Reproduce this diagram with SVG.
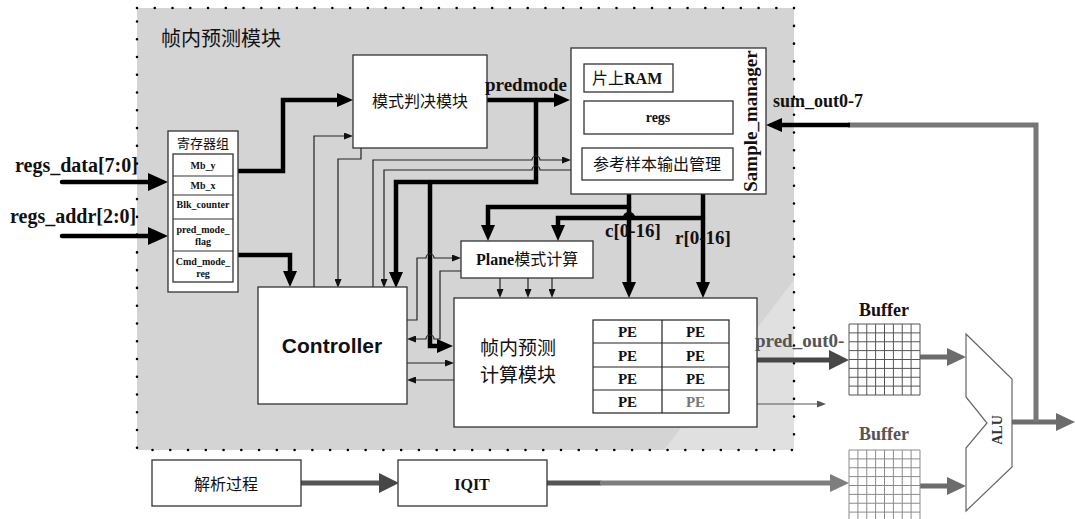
<svg xmlns="http://www.w3.org/2000/svg" width="1075" height="519" viewBox="0 0 1075 519">
<style>
.box{fill:#fff;stroke:#333;stroke-width:1.3}
.thk{fill:none;stroke:#000;stroke-width:4.5;stroke-linecap:round;stroke-linejoin:miter}
.thn{fill:none;stroke:#222;stroke-width:1.2}
.cjk{font-family:"Noto Sans CJK SC","Noto Sans CJK TC",sans-serif;fill:#111}
.b{font-family:"Liberation Serif",serif;font-weight:bold;fill:#111}
.bs{font-family:"Liberation Sans",sans-serif;font-weight:bold;fill:#111}
.mid{text-anchor:middle}
</style>
<defs>
<marker id="aB" markerUnits="userSpaceOnUse" viewBox="0 0 16 14" markerWidth="16" markerHeight="14" refX="1" refY="7" orient="auto"><path d="M0,0L16,7L0,14z" fill="#000"/></marker>
<marker id="aL" markerUnits="userSpaceOnUse" viewBox="0 0 20 18" markerWidth="20" markerHeight="18" refX="1" refY="9" orient="auto"><path d="M0,0L20,9L0,18z" fill="#000"/></marker>
<marker id="aS" markerUnits="userSpaceOnUse" viewBox="0 0 9 7" markerWidth="9" markerHeight="7" refX="1" refY="3.5" orient="auto"><path d="M0,0L9,3.5L0,7z" fill="#111"/></marker>
<marker id="aSg" markerUnits="userSpaceOnUse" viewBox="0 0 9 7" markerWidth="9" markerHeight="7" refX="1" refY="3.5" orient="auto"><path d="M0,0L9,3.5L0,7z" fill="#555"/></marker>
<marker id="aGD" markerUnits="userSpaceOnUse" viewBox="0 0 20 20" markerWidth="20" markerHeight="20" refX="1" refY="10" orient="auto"><path d="M0,0L20,10L0,20z" fill="#474747"/></marker>
<marker id="aG" markerUnits="userSpaceOnUse" viewBox="0 0 19 18" markerWidth="19" markerHeight="18" refX="1" refY="9" orient="auto"><path d="M0,0L19,9L0,18z" fill="#6c6c6c"/></marker>
<marker id="aGL" markerUnits="userSpaceOnUse" viewBox="0 0 19 18" markerWidth="19" markerHeight="18" refX="1" refY="9" orient="auto"><path d="M0,0L19,9L0,18z" fill="#7e7e7e"/></marker>
</defs>

<g id="frame">
<rect x="137" y="8" width="657" height="442" fill="#d4d4d4"/>
<polygon points="794,280 794,450 664,450" fill="#e0e0e0"/>
<rect x="137" y="8" width="657" height="442" fill="none" stroke="#000" stroke-width="2.6" stroke-linecap="round" stroke-dasharray="0 17.76"/>
<text class="cjk" x="161" y="46" font-size="20">帧内预测模块</text>
</g>

<g id="connectors">
<path class="thk" d="M62,182H149" marker-end="url(#aL)"/>
<path class="thk" d="M62,236H149" marker-end="url(#aL)"/>
<path class="thk" d="M237,171H283V100H338" marker-end="url(#aB)"/>
<path class="thk" d="M237,255H290V272" marker-end="url(#aB)"/>
<path class="thk" d="M487,100H555" marker-end="url(#aB)"/>
<path class="thk" d="M536,100V182H396V273" marker-end="url(#aB)"/>
<path class="thk" d="M430,182V346H438" marker-end="url(#aB)"/>
<path class="thk" d="M629,194V283" marker-end="url(#aB)"/>
<path class="thk" d="M703,194V283" marker-end="url(#aB)"/>
<path class="thk" d="M629,207H488V226" marker-end="url(#aB)"/>
<path class="thk" d="M703,218H633a4,4 0 0 0 -8,0H558V226" marker-end="url(#aB)"/>
<path class="thn" d="M314,287V136H345" marker-end="url(#aS)"/>
<path class="thn" d="M361,148V159H338V280" marker-end="url(#aS)"/>
<path class="thn" d="M373,287V160H532a4,4 0 0 1 8,0H563" marker-end="url(#aS)"/>
<path class="thn" d="M571,170H540a4,4 0 0 0 -8,0H384V280" marker-end="url(#aS)"/>
<path class="thn" d="M407,320H417V258H426a4,4 0 0 1 8,0H453" marker-end="url(#aS)"/>
<path class="thn" d="M461,271H440V339H434a4,4 0 0 0 -8,0H415" marker-end="url(#aS)"/>
<path class="thn" d="M407,363H446" marker-end="url(#aS)"/>
<path class="thn" d="M454,380H415" marker-end="url(#aS)"/>
<path class="thn" d="M500,278V290" marker-end="url(#aS)"/>
<path class="thn" d="M528,278V290" marker-end="url(#aS)"/>
<path class="thn" d="M552,278V290" marker-end="url(#aS)"/>
<path fill="none" stroke="#555" stroke-width="1.2" d="M757,404H818" marker-end="url(#aSg)"/>
<path fill="none" stroke="#555" stroke-width="5" stroke-linecap="round" d="M301,483H380" marker-end="url(#aGD)"/>
<path fill="none" stroke="#555" stroke-width="5" stroke-linecap="round" d="M547,483H600"/>
<path fill="none" stroke="#7e7e7e" stroke-width="5" d="M600,483H831" marker-end="url(#aGL)"/>
<path fill="none" stroke="#474747" stroke-width="5" stroke-linecap="round" d="M755,360H830" marker-end="url(#aGD)"/>
<path fill="none" stroke="#6c6c6c" stroke-width="5" stroke-linecap="round" d="M921,357H948" marker-end="url(#aG)"/>
<path fill="none" stroke="#6c6c6c" stroke-width="5" stroke-linecap="round" d="M921,486H948" marker-end="url(#aG)"/>
<path fill="none" stroke="#6c6c6c" stroke-width="5" stroke-linecap="round" d="M1013,422H1057" marker-end="url(#aG)"/>
<path fill="none" stroke="#777" stroke-width="5" d="M1036,422V125H848"/>
<path fill="none" stroke="#000" stroke-width="4.5" d="M850,125H781" marker-end="url(#aB)"/>
</g>

<g id="regs_labels">
<text class="b" x="15" y="172" font-size="20">regs_data[7:0]</text>
<text class="b" x="10" y="223" font-size="20">regs_addr[2:0]</text>
</g>

<g id="regfile">
<rect class="box" x="168" y="131" width="70" height="161"/>
<rect class="box" x="173" y="154" width="60" height="128"/>
<path fill="none" stroke="#333" stroke-width="1.2" d="M173,176H233M173,195H233M173,219H233M173,251H233"/>
<text class="cjk mid" x="203" y="148" font-size="13">寄存器组</text>
<text class="b mid" x="203" y="169" font-size="10">Mb_y</text>
<text class="b mid" x="203" y="189" font-size="10">Mb_x</text>
<text class="b mid" x="203" y="208" font-size="10">Blk_counter</text>
<text class="b mid" x="203" y="233" font-size="10">pred_mode_</text>
<text class="b mid" x="203" y="245" font-size="10">flag</text>
<text class="b mid" x="203" y="265" font-size="10">Cmd_mode_</text>
<text class="b mid" x="203" y="277" font-size="10">reg</text>
</g>

<g id="mode_decision">
<rect class="box" x="353" y="55" width="134" height="93"/>
<text class="cjk mid" x="420" y="107" font-size="16">模式判决模块</text>
</g>
<text class="b" x="485" y="91" font-size="19">predmode</text>

<g id="sample_manager">
<rect class="box" x="571" y="48" width="195" height="146"/>
<rect class="box" x="584" y="64" width="89" height="28"/>
<text x="592" y="84" font-size="16"><tspan class="cjk">片上</tspan><tspan class="b">RAM</tspan></text>
<rect class="box" x="584" y="101" width="149" height="33"/>
<text class="b mid" x="658" y="122" font-size="14">regs</text>
<rect class="box" x="582" y="148" width="151" height="32"/>
<text class="cjk mid" x="657" y="170" font-size="16">参考样本输出管理</text>
<text class="b mid" transform="translate(757,121) rotate(-90)" font-size="19">Sample_manager</text>
</g>
<text class="b" x="773" y="107" font-size="18">sum_out0-7</text>

<g id="controller">
<rect class="box" x="258" y="287" width="149" height="117"/>
<text class="bs mid" x="332" y="353" font-size="21">Controller</text>
</g>

<g id="plane">
<rect class="box" x="461" y="241" width="132" height="37"/>
<text x="476" y="265" font-size="16"><tspan class="b">Plane</tspan><tspan class="cjk">模式计算</tspan></text>
</g>

<g id="intra_calc">
<rect class="box" x="454" y="298" width="303" height="129"/>
<text class="cjk" x="480" y="355" font-size="19">帧内预测</text>
<text class="cjk" x="480" y="382" font-size="19">计算模块</text>
<rect fill="#fff" stroke="#222" stroke-width="1.2" x="593" y="320" width="136" height="93"/>
<path fill="none" stroke="#222" stroke-width="1.2" d="M662,320V413M593,343H729M593,367H729M593,390H729"/>
<text class="b mid" x="627.5" y="337" font-size="15">PE</text>
<text class="b mid" x="695.5" y="337" font-size="15">PE</text>
<text class="b mid" x="627.5" y="360.5" font-size="15">PE</text>
<text class="b mid" x="695.5" y="360.5" font-size="15">PE</text>
<text class="b mid" x="627.5" y="384" font-size="15">PE</text>
<text class="b mid" x="695.5" y="384" font-size="15">PE</text>
<text class="b mid" x="627.5" y="407" font-size="15">PE</text>
<text class="b mid" x="695.5" y="407" font-size="15" style="fill:#777">PE</text>
</g>

<g id="bus_labels">
<text class="b" x="605" y="237" font-size="19">c[0-16]</text>
<text class="b" x="675" y="244" font-size="19">r[0-16]</text>
<text class="b" x="755" y="347" font-size="19" style="fill:#555">pred_out0-</text>
</g>

<g id="parse">
<rect class="box" x="152" y="460" width="149" height="46"/>
<text class="cjk mid" x="226" y="490" font-size="16">解析过程</text>
</g>
<g id="iqit">
<rect class="box" x="398" y="460" width="149" height="46"/>
<text class="b mid" x="472" y="490" font-size="16">IQIT</text>
</g>

<g id="buffer_top">
<text class="b mid" x="884" y="316" font-size="18">Buffer</text>
<rect x="849" y="324" width="71" height="71" fill="#fff"/>
<path fill="none" stroke="#555" stroke-width="1" d="M849,324V395M857.9,324V395M866.75,324V395M875.6,324V395M884.5,324V395M893.4,324V395M902.25,324V395M911.1,324V395M920,324V395M849,324H920M849,332.9H920M849,341.75H920M849,350.6H920M849,359.5H920M849,368.4H920M849,377.25H920M849,386.1H920M849,395H920"/>
</g>
<g id="buffer_bottom">
<text class="b mid" x="884" y="440" font-size="18" style="fill:#555">Buffer</text>
<rect x="849" y="450" width="71" height="71" fill="#fff"/>
<path fill="none" stroke="#8a8a8a" stroke-width="1" d="M849,450V521M857.9,450V521M866.75,450V521M875.6,450V521M884.5,450V521M893.4,450V521M902.25,450V521M911.1,450V521M920,450V521M849,450H920M849,458.9H920M849,467.75H920M849,476.6H920M849,485.5H920M849,494.4H920M849,503.25H920M849,512.1H920"/>
</g>

<g id="alu">
<polygon points="966,334 1012,379 1012,467 966,511 966,448 987,423 966,397" fill="#fff" stroke="#666" stroke-width="1.2"/>
<text class="b mid" transform="translate(1002,430) rotate(-90)" font-size="14" style="fill:#333">ALU</text>
</g>
</svg>
